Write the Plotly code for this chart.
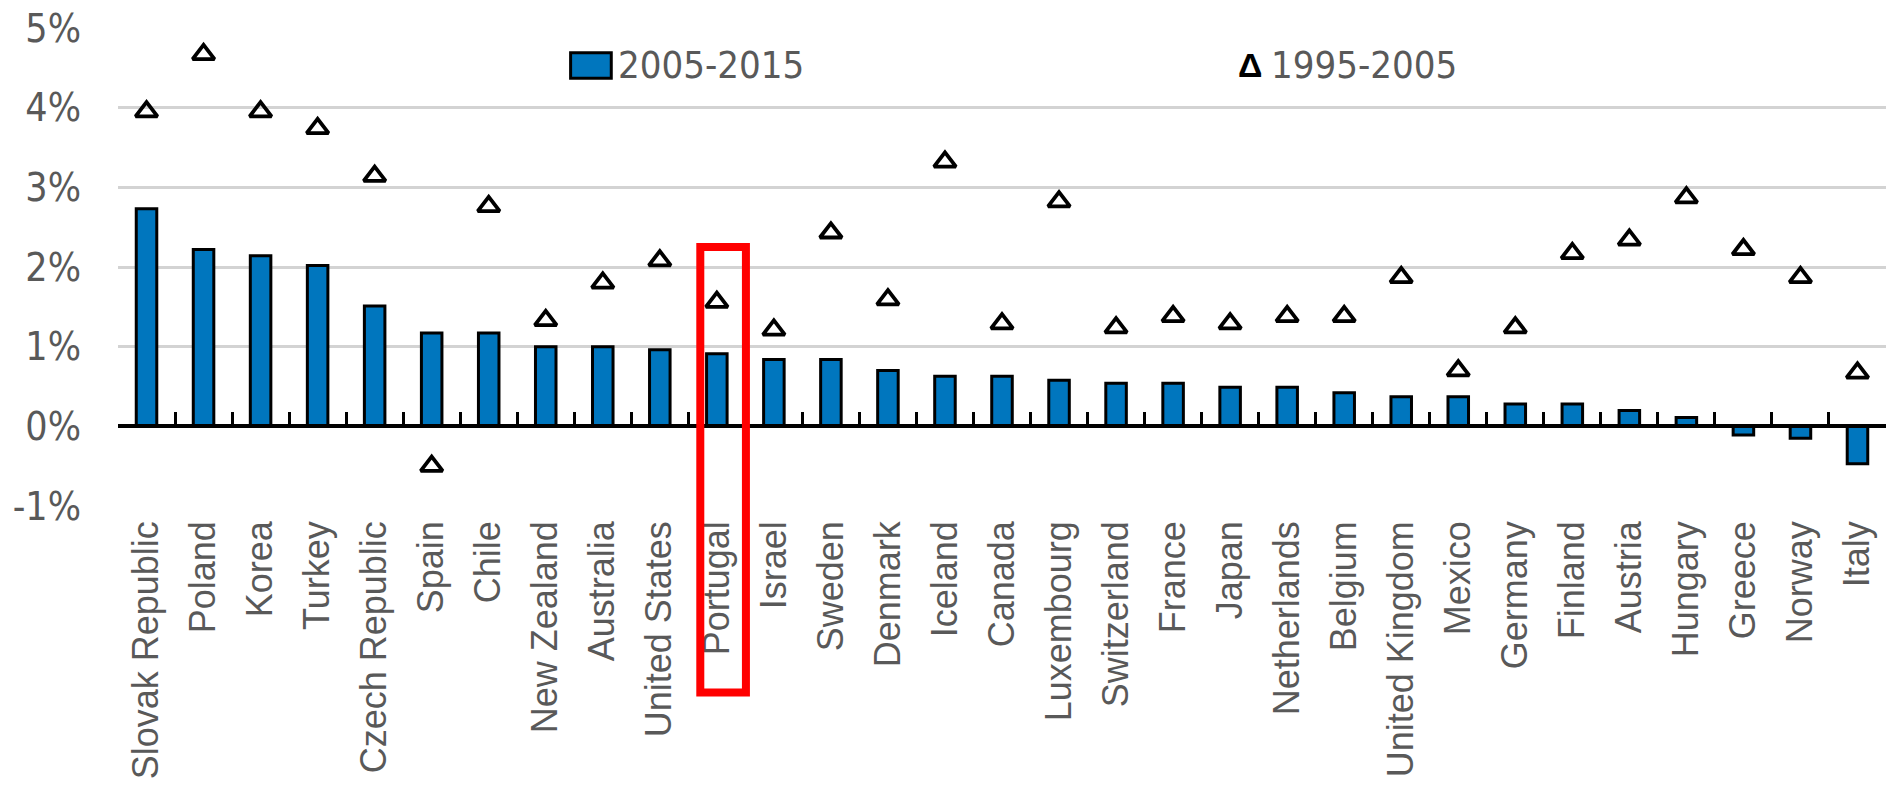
import plotly.graph_objects as go

countries = ["Slovak Republic", "Poland", "Korea", "Turkey", "Czech Republic", "Spain", "Chile",
             "New Zealand", "Australia", "United States", "Portugal", "Israel", "Sweden", "Denmark",
             "Iceland", "Canada", "Luxembourg", "Switzerland", "France", "Japan", "Netherlands",
             "Belgium", "United Kingdom", "Mexico", "Germany", "Finland", "Austria", "Hungary",
             "Greece", "Norway", "Italy"]

growth_2005_2015 = [2.73, 2.22, 2.14, 2.02, 1.51, 1.17, 1.17, 1.00, 1.00, 0.96, 0.91, 0.84, 0.84, 0.70,
                    0.63, 0.63, 0.58, 0.54, 0.54, 0.49, 0.49, 0.42, 0.37, 0.37, 0.28, 0.28, 0.20, 0.11,
                    -0.11, -0.15, -0.47]

growth_1995_2005 = [3.95, 4.67, 3.95, 3.74, 3.14, -0.50, 2.76, 1.33, 1.80, 2.08, 1.56, 1.21, 2.43, 1.59,
                    3.32, 1.29, 2.82, 1.24, 1.38, 1.29, 1.38, 1.38, 1.87, 0.70, 1.24, 2.17, 2.34, 2.87,
                    2.22, 1.87, 0.67]

y_tickvals = [-1, 0, 1, 2, 3, 4, 5]
y_ticktext = ["-1%", "0%", "1%", "2%", "3%", "4%", "5%"]

legend_labels = ["2005-2015", "1995-2005"]
highlight = "Portugal"

BLUE = "#0076BE"
GRAY = "#595959"
NARROW = "Liberation Sans Narrow, Arial Narrow, DejaVu Sans Condensed, sans-serif"
REGULAR = "Liberation Sans, Arial, sans-serif"

fig = go.Figure()

fig.add_trace(go.Bar(
    x=countries, y=growth_2005_2015, name=legend_labels[0],
    marker=dict(color=BLUE, line=dict(color="black", width=3)),
    width=0.36, showlegend=False, xaxis="x", yaxis="y",
))

fig.add_trace(go.Scatter(
    x=countries, y=growth_1995_2005, name=legend_labels[1], mode="markers",
    marker=dict(symbol="triangle-up-open", size=19, color="black", line=dict(width=3.8, color="black")),
    showlegend=False, xaxis="x2", yaxis="y",
))

n = len(countries)
fig.update_layout(
    width=1892, height=785,
    margin=dict(l=118, r=6, t=26, b=278),
    paper_bgcolor="white", plot_bgcolor="white",
    xaxis=dict(
        type="category", categoryorder="array", categoryarray=countries,
        range=[-0.5, n - 0.5], showgrid=False, showline=False, zeroline=False,
        tickangle=-90, tickfont=dict(family=REGULAR, size=36, color=GRAY),
        ticks="", ticklabelstandoff=7,
    ),
    xaxis2=dict(
        type="category", categoryorder="array", categoryarray=countries,
        overlaying="x", anchor="free", position=1 / 6, side="bottom",
        range=[-0.5, n - 0.5], showgrid=False, zeroline=False,
        showline=True, linecolor="black", linewidth=3.5,
        ticks="inside", tickson="boundaries", ticklen=13, tickwidth=3, tickcolor="black",
        showticklabels=False, layer="above traces",
    ),
    yaxis=dict(
        range=[-1, 5], tickvals=y_tickvals, ticktext=y_ticktext,
        showgrid=True, gridcolor="#D3D3D3", gridwidth=3, zeroline=False, showline=False,
        tickfont=dict(family=NARROW, size=39, color=GRAY), ticks="", ticklabelstandoff=36,
    ),
    bargap=0.62,
)

# red highlight box around Portugal (positioned from the category index)
idx = countries.index(highlight)
fig.add_shape(type="rect", xref="paper", yref="paper",
              x0=(idx + 0.21) / n, x1=(idx + 1.01) / n,
              y0=-0.39, y1=(2.25 + 1) / 6,
              line=dict(color="#FF0000", width=8), fillcolor="rgba(0,0,0,0)", layer="above")

# legend (custom, drawn in paper space)
fig.add_shape(type="rect", xref="paper", yref="paper",
              x0=0.256, x1=0.279, y0=0.895, y1=0.948,
              line=dict(color="black", width=3), fillcolor=BLUE)
fig.add_annotation(xref="paper", yref="paper", x=0.2815, y=0.922, xanchor="left", yanchor="middle",
                   text=legend_labels[0], showarrow=False,
                   font=dict(family=NARROW, size=38, color=GRAY))
fig.add_annotation(xref="paper", yref="paper", x=0.6325, y=0.922, xanchor="left", yanchor="middle",
                   text="<b>Δ</b>", showarrow=False,
                   font=dict(family=REGULAR, size=34, color="black"))
fig.add_annotation(xref="paper", yref="paper", x=0.651, y=0.922, xanchor="left", yanchor="middle",
                   text=legend_labels[1], showarrow=False,
                   font=dict(family=NARROW, size=38, color=GRAY))

fig.write_html("out.html", config={"displayModeBar": False},
               post_script="document.body.style.margin='0';")
